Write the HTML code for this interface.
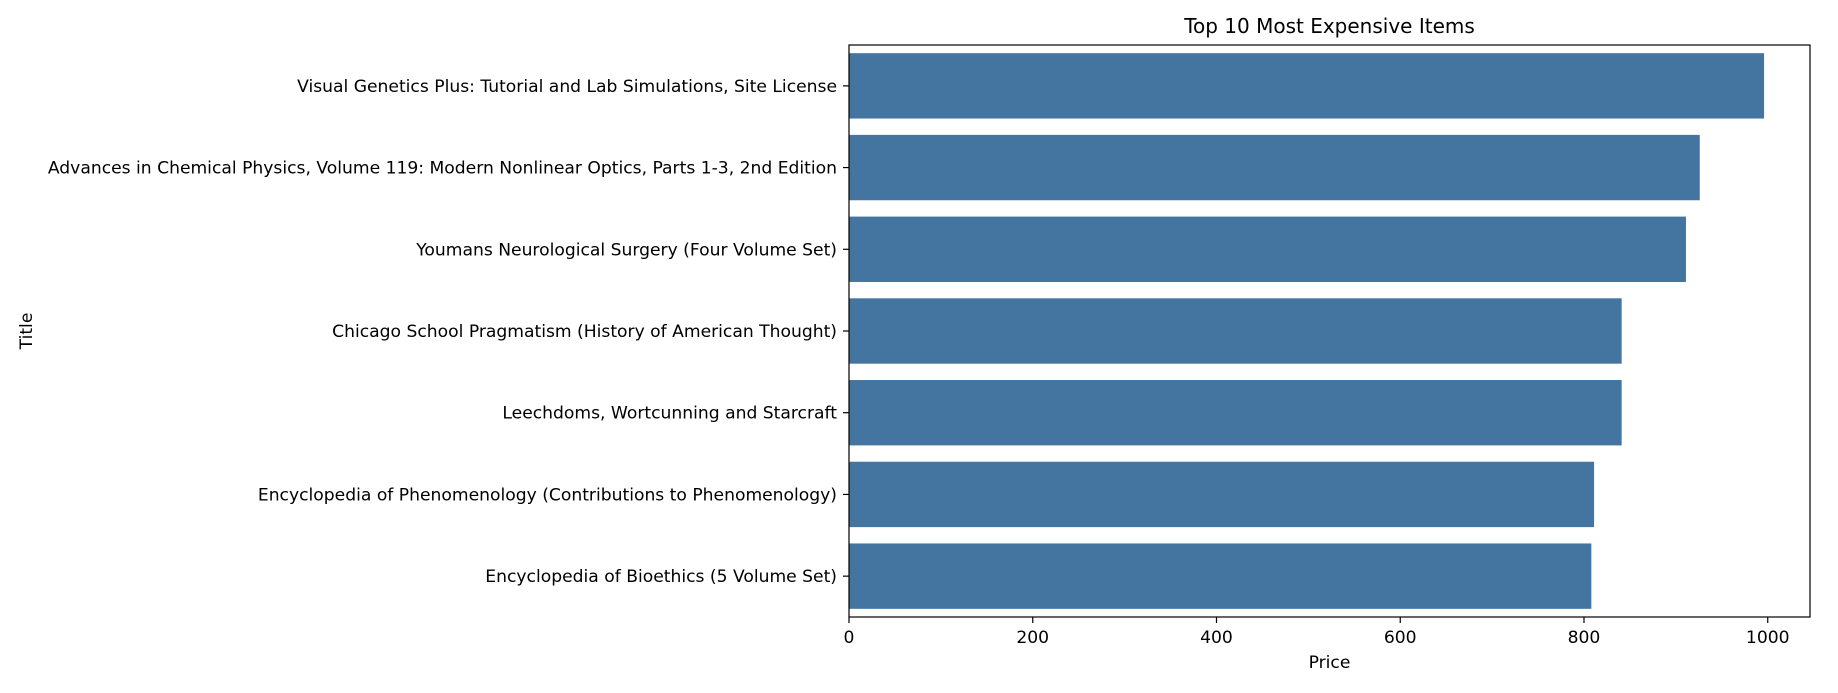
<!DOCTYPE html>
<html><head><meta charset="utf-8"><style>
body{margin:0;background:#fff;}
svg text{font-family:"DejaVu Sans","Liberation Sans",sans-serif;fill:#000;}
</style></head><body>
<svg id="chart" width="1838" height="688" xmlns="http://www.w3.org/2000/svg"></svg>
<script>
const categories = ["Visual Genetics Plus: Tutorial and Lab Simulations, Site License","Advances in Chemical Physics, Volume 119: Modern Nonlinear Optics, Parts 1-3, 2nd Edition","Youmans Neurological Surgery (Four Volume Set)","Chicago School Pragmatism (History of American Thought)","Leechdoms, Wortcunning and Starcraft","Encyclopedia of Phenomenology (Contributions to Phenomenology)","Encyclopedia of Bioethics (5 Volume Set)"];
const prices = [996, 926, 911, 841, 841, 811, 808];
const xTicks = [0, 200, 400, 600, 800, 1000];
const xMax = 1046;
const L=849,R=1810,T=45,B=617;
const svg=document.getElementById('chart');
const NS='http://www.w3.org/2000/svg';
function x(v){return L+(v/xMax)*(R-L);}
const band=(B-T)/categories.length;
function y(i){return T+i*band;}
function mk(tag,attrs,parent){const e=document.createElementNS(NS,tag);for(const k in attrs)e.setAttribute(k,attrs[k]);(parent||svg).appendChild(e);return e;}
categories.forEach((c,i)=>{
  const r=mk('rect',{x:L,y:y(i)+band*0.1,width:x(prices[i])-L,height:band*0.8,fill:'#4474a0'});
  
  
  const cy=y(i)+band/2;
  mk('line',{x1:L-6,x2:L,y1:cy,y2:cy,stroke:'#000','stroke-width':1.2});
  const t=mk('text',{x:L-12,y:cy+6,'text-anchor':'end','font-size':17.15});
  t.textContent=c;
  
  
});
xTicks.forEach(v=>{
  mk('line',{x1:x(v),x2:x(v),y1:B,y2:B+6,stroke:'#000','stroke-width':1.2});
  const t=mk('text',{x:x(v),y:B+26,'text-anchor':'middle','font-size':17.15});
  t.textContent=v;
  
  
});
const f=mk('rect',{x:L,y:T,width:R-L,height:B-T,fill:'none',stroke:'#000','stroke-width':1.2});


const tt=mk('text',{x:(L+R)/2,y:33,'text-anchor':'middle','font-size':20});
tt.textContent='Top 10 Most Expensive Items';


const xl=mk('text',{x:(L+R)/2,y:668,'text-anchor':'middle','font-size':17.15});
xl.textContent='Price';


const ym=(T+B)/2;
const yl=mk('text',{x:32,y:ym,'text-anchor':'middle','font-size':17.15,transform:'rotate(-90 32 '+ym+')'});
yl.textContent='Title';


</script>
</body></html>
